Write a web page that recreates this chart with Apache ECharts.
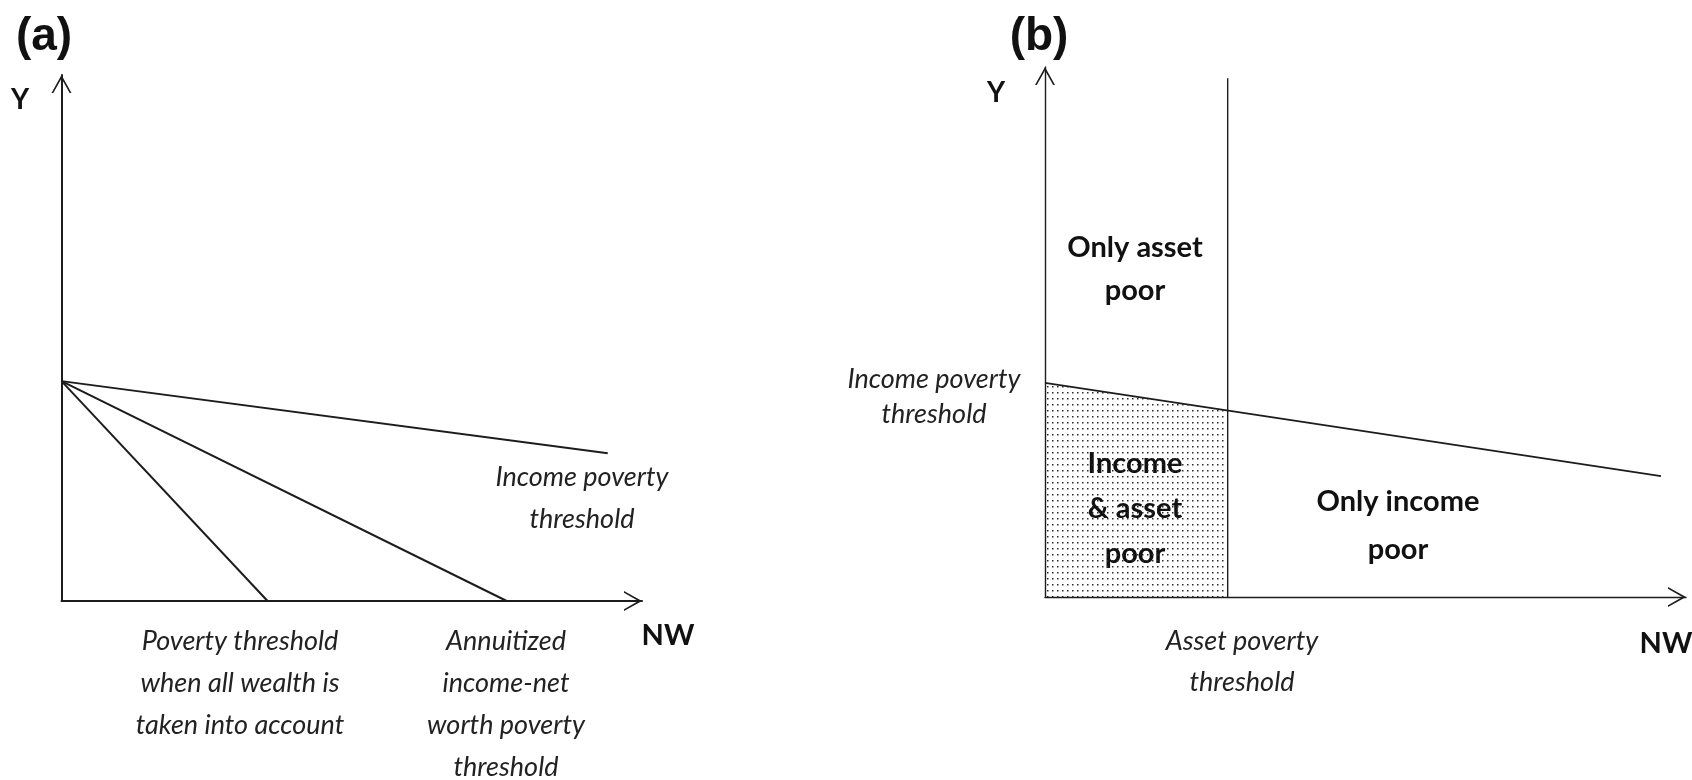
<!DOCTYPE html>
<html>
<head>
<meta charset="utf-8">
<style>
  html, body { margin: 0; padding: 0; background: #fff; }
  #main { width: 1692px; height: 780px; }
</style>
<script src="https://cdn.jsdelivr.net/npm/echarts@6/dist/echarts.min.js"></script>
</head>
<body>
<div id="main"></div>
<script>
// panel (a): thresholds, all starting from the income poverty point on Y
var aIncomeLine = [[0, 41.8], [94.1, 28.1]];
var aAnnuityLine = [[0, 41.8], [76.7, 0]];
var aWealthLine = [[0, 41.8], [35.5, 0]];

// panel (b): income threshold, asset threshold and the shaded "both poor" cell
var bIncomeLine = [[0, 40.4], [96.1, 22.8]];
var bAssetLine = [[28.5, 0], [28.5, 97.9]];
var bBothPoor = [[0, 40.4], [28.5, 35.1]];

!function() {
    var myChart = echarts.init(document.getElementById('main'));

    // small dot tile for the shaded region
    var tile = document.createElement('canvas');
    tile.width = 5;
    tile.height = 6;
    var ctx = tile.getContext('2d');
    ctx.fillStyle = '#2a2a2a';
    ctx.fillRect(2, 2, 1.5, 1.5);

    var ink = '#1c1c1c';
    // open arrow head, pointing up in its own box
    var chevron = 'path://M0,18 L10,0 L20,18 L18.2,18 L10,3.6 L1.8,18 Z';

    function axis(gi, width) {
        return {
            type: 'value',
            gridIndex: gi,
            min: 0,
            max: 100,
            axisLine: {
                show: true,
                symbol: ['none', chevron],
                symbolSize: [20, 18],
                symbolOffset: [0, -9],
                lineStyle: { color: ink, width: width }
            },
            axisTick: { show: false },
            axisLabel: { show: false },
            splitLine: { show: false }
        };
    }

    function seg(data, xi, width) {
        return {
            type: 'line',
            xAxisIndex: xi,
            yAxisIndex: xi,
            data: data,
            showSymbol: false,
            silent: true,
            lineStyle: { color: ink, width: width }
        };
    }

    var italic = { fontFamily: 'Lato', fontStyle: 'italic', fontSize: 27, fill: '#222', align: 'center', verticalAlign: 'middle' };
    var bold = { fontFamily: 'Lato', fontWeight: 'bold', fontSize: 29, fill: '#111', align: 'center', verticalAlign: 'middle' };

    function txt(text, x, y, base, extra) {
        return { type: 'text', x: x, y: y, silent: true, style: Object.assign({ text: text }, base, extra || {}) };
    }

    var option = {
        backgroundColor: '#fff',
        animation: false,
        grid: [
            { left: 61.5, top: 75, width: 580.5, height: 526 },
            { left: 1045, top: 67, width: 641, height: 530 }
        ],
        xAxis: [axis(0, 2), axis(1, 1.4)],
        yAxis: [axis(0, 2), axis(1, 1.4)],
        series: [
            seg(aIncomeLine, 0, 2),
            seg(aAnnuityLine, 0, 2),
            seg(aWealthLine, 0, 2),
            {
                type: 'line',
                xAxisIndex: 1,
                yAxisIndex: 1,
                data: bBothPoor,
                showSymbol: false,
                silent: true,
                lineStyle: { width: 0 },
                areaStyle: { color: { image: tile, repeat: 'repeat' }, opacity: 1 }
            },
            seg(bIncomeLine, 1, 1.6),
            seg(bAssetLine, 1, 1.4)
        ],
        graphic: [
            txt('(a)', 44, 37, bold, { fontFamily: 'Liberation Sans', fontSize: 46 }),
            txt('Y', 20, 100, bold, { fontSize: 28 }),
            txt('Income poverty\nthreshold', 582, 498, italic, { lineHeight: 42 }),
            txt('Poverty threshold\nwhen all wealth is\ntaken into account', 240, 683, italic, { lineHeight: 42 }),
            txt('Annuitized\nincome-net\nworth poverty\nthreshold', 506, 704, italic, { lineHeight: 42 }),
            txt('NW', 668, 636, bold, { fontSize: 29 }),

            txt('(b)', 1039, 37, bold, { fontFamily: 'Liberation Sans', fontSize: 46 }),
            txt('Y', 996, 93, bold, { fontSize: 28 }),
            txt('Only asset\npoor', 1135, 269, bold, { lineHeight: 43 }),
            txt('Income\n& asset\npoor', 1135, 509, bold, { lineHeight: 45 }),
            txt('Only income\npoor', 1398, 526, bold, { lineHeight: 48 }),
            txt('Income poverty\nthreshold', 934, 397, italic, { lineHeight: 35 }),
            txt('Asset poverty\nthreshold', 1242, 662, italic, { lineHeight: 41 }),
            txt('NW', 1666, 644, bold, { fontSize: 29 })
        ]
    };

    myChart.setOption(option);
}();
</script>
</body>
</html>
